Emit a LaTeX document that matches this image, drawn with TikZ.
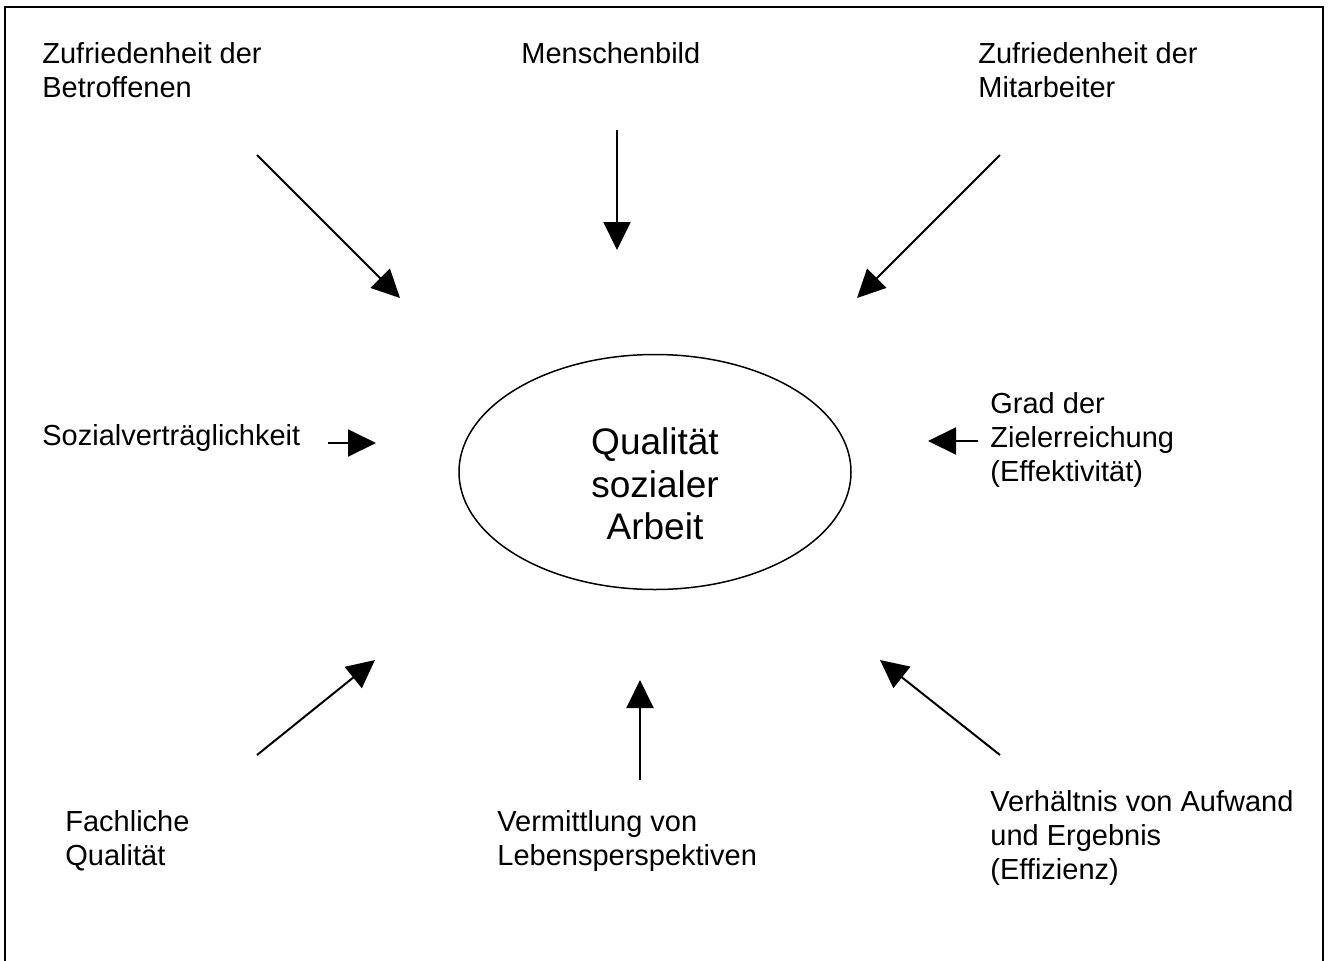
\documentclass[tikz,border=0pt]{standalone}
\usepackage{fontspec}
\setmainfont{Liberation Sans}
\usetikzlibrary{shapes.geometric, arrows.meta, positioning}
\tikzset{
  frame/.style  ={line width=1pt},
  lbl/.style    ={font=\fontsize{14.5}{17}\selectfont, align=left,
                  inner sep=0pt, anchor=base west},
  core/.style   ={draw, ellipse, line width=0.75pt,
                  minimum width=196pt, minimum height=117.5pt},
  coretxt/.style={font=\fontsize{18.5}{21.25}\selectfont, align=center,
                  inner sep=0pt},
  pfeil/.style  ={-{Triangle[length=14pt,width=13.5pt]}, line width=1pt}
}
\begin{document}
\begin{tikzpicture}[x=0.5pt, y=-0.5pt]
  \useasboundingbox (0,0) rectangle (1330,960);
  \draw[frame] (5,980) -- (5,7) -- (1323,7) -- (1323,980);

  \node[core] (kern) at (655,472) {};
  \node[coretxt, below=6pt of kern.center, anchor=center] (kerntxt)
       {Qualität\\sozialer\\Arbeit};

  % labels sit on the baseline of their last line
  \node[lbl] (betr)     at (42,97)   {Zufriedenheit der\\Betroffenen};
  \node[lbl] (menschen) at (521,63)  {Menschenbild};
  \node[lbl] (mitarb)   at (978,97)  {Zufriedenheit der\\Mitarbeiter};
  \node[lbl] (sozial)   at (42,445)  {Sozialverträglichkeit};
  \node[lbl] (ziel)     at (990,481) {Grad der\\Zielerreichung\\(Effektivität)};
  \node[lbl] (fach)     at (65,865)  {Fachliche\\Qualität};
  \node[lbl] (verm)     at (497,865) {Vermittlung von\\Lebensperspektiven};
  \node[lbl] (aufw)     at (990,879) {Verhältnis von Aufwand\\und Ergebnis\\(Effizienz)};

  % arrow ends
  \coordinate (betr-s)     at (257,155);  \coordinate (betr-e)     at (400,298);
  \coordinate (menschen-s) at (617,130);  \coordinate (menschen-e) at (617,250);
  \coordinate (mitarb-s)   at (1000,155); \coordinate (mitarb-e)   at (857,298);
  \coordinate (sozial-s)   at (328,443);  \coordinate (sozial-e)   at (376,443);
  \coordinate (ziel-s)     at (978,441);  \coordinate (ziel-e)     at (928,441);
  \coordinate (fach-s)     at (257,755);  \coordinate (fach-e)     at (375,660);
  \coordinate (verm-s)     at (640,780);  \coordinate (verm-e)     at (640,680);
  \coordinate (aufw-s)     at (1000,755); \coordinate (aufw-e)     at (880,660);

  \draw[pfeil] (betr-s)     -- (betr-e);
  \draw[pfeil] (menschen-s) -- (menschen-e);
  \draw[pfeil] (mitarb-s)   -- (mitarb-e);
  \draw[pfeil] (sozial-s)   -- (sozial-e);
  \draw[pfeil] (ziel-s)     -- (ziel-e);
  \draw[pfeil] (fach-s)     -- (fach-e);
  \draw[pfeil] (verm-s)     -- (verm-e);
  \draw[pfeil] (aufw-s)     -- (aufw-e);
\end{tikzpicture}
\end{document}
